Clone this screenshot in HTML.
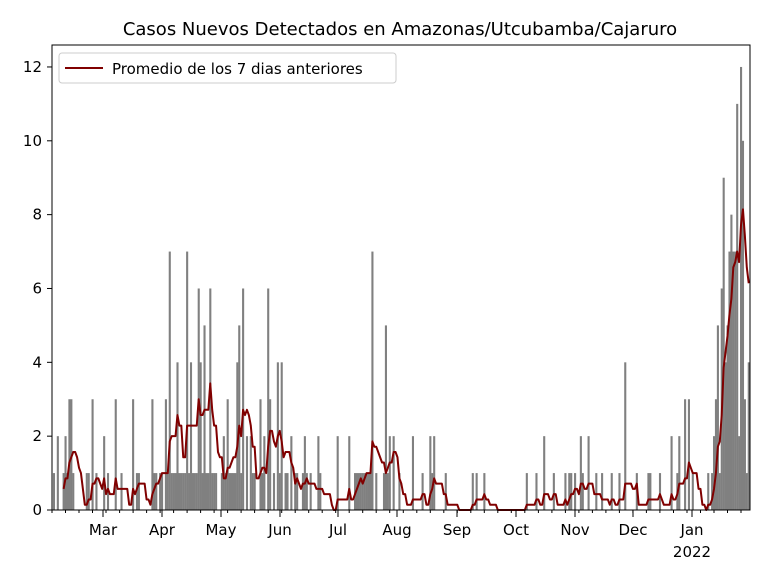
<!DOCTYPE html>
<html><head><meta charset="utf-8"><style>
body{margin:0;background:#fff;font-family:"Liberation Sans","DejaVu Sans",sans-serif}
</style></head><body>
<svg id="s" width="768" height="576" xmlns="http://www.w3.org/2000/svg" font-family="DejaVu Sans, Liberation Sans, sans-serif">
<rect width="768" height="576" fill="#fff"/>
<g id="bars" fill="#808080"></g>
<polyline id="ln" fill="none" stroke="#800000" stroke-width="2" stroke-linejoin="round"/>
<rect x="52" y="45" width="698" height="465" fill="none" stroke="#000" stroke-width="1"/>
<g id="ax" font-size="15" fill="#000"></g>
<text x="400" y="35" font-size="18" text-anchor="middle">Casos Nuevos Detectados en Amazonas/Utcubamba/Cajaruro</text>
<rect x="59" y="53" width="337" height="30" rx="3" fill="#fff" fill-opacity="0.85" stroke="#ccc"/>
<line x1="65" y1="68" x2="103" y2="68" stroke="#800000" stroke-width="2"/>
<text x="112" y="74" font-size="15">Promedio de los 7 dias anteriores</text>
</svg>
<script>
var raw=[54,1,57,2,63,1,65,2,67,1,69,3,71,3,73,1,86,1,89,1,93,3,97,1,104,2,108,1,115,3,121,1,134,3,137,1,139,1,152,3,155,1,157,1,160,1,162,1,165,3,167,1,169,7,171,1,174,1,177,4,180,1,183,1,187,7,189,1,190,4,193,1,196,1,198,6,200,4,202,1,205,5,207,1,210,6,212,1,215,1,217,1,221,1,224,2,227,3,229,1,232,1,235,1,238,4,240,5,242,1,244,6,247,2,250,2,252,1,255,1,260,3,263,1,265,2,268,6,270,3,273,1,277,4,279,1,281,4,285,1,287,1,292,2,295,1,298,1,302,1,305,2,307,1,310,1,318,2,320,1,337,2,350,2,355,1,358,1,360,1,362,1,364,1,366,1,368,1,373,7,376,1,383,1,386,5,388,1,390,2,393,2,400,1,412,2,423,1,430,2,432,1,435,2,445,1,473,1,476,1,485,1,527,1,537,1,545,2,553,1,565,1,569,1,572,1,575,1,580,2,583,1,589,2,596,1,602,1,611,1,620,1,625,4,637,1,649,1,651,1,660,1,671,2,677,1,680,2,685,3,688,3,693,1,708,1,714,2,716,3,718,5,720,1,722,6,724,9,726,4,728,5,730,7,732,8,734,7,736,7,738,11,740,2,741,12,743,10,745,3,748,4];
var dw=1.93,N=362,d=new Array(N).fill(0);
for(var i=0;i<raw.length;i+=2){var k=Math.round((raw[i]-52)/dw);if(k>=0&&k<N)d[k]=Math.max(d[k],raw[i+1]);}
[[172,216],[224,236],[355,372],[712,750]].forEach(function(r){for(var x=r[0];x<=r[1];x+=dw){var k=Math.round((x-52)/dw);if(d[k]==0)d[k]=1;}});
var ys=36.92,y0=510,b='',p=[];
for(var k=0;k<N;k++){if(d[k]>0){var h=d[k]*ys;b+='<rect x="'+(52+k*dw-1).toFixed(2)+'" y="'+(y0-h).toFixed(2)+'" width="2.1" height="'+h.toFixed(2)+'"/>';}
if(k>=6){var s=0;for(var j=k-6;j<=k;j++)s+=d[j];p.push((52+k*dw).toFixed(2)+','+(y0-s/7*ys).toFixed(2));}}
document.getElementById('bars').innerHTML=b;
document.getElementById('ln').setAttribute('points',p.join(' '));
var a='';
for(var v=0;v<=12;v+=2){var y=y0-v*ys;a+='<line x1="47" x2="52" y1="'+y+'" y2="'+y+'" stroke="#000"/><text x="42" y="'+(y+5)+'" text-anchor="end">'+v+'</text>';}
var m=[[103,'Mar'],[162,'Apr'],[221,'May'],[280,'Jun'],[338,'Jul'],[397,'Aug'],[457,'Sep'],[516,'Oct'],[575,'Nov'],[633,'Dec'],[692,'Jan']];
m.forEach(function(t){a+='<line x1="'+t[0]+'" x2="'+t[0]+'" y1="510" y2="517" stroke="#000"/><text x="'+t[0]+'" y="535" text-anchor="middle">'+t[1]+'</text>';});
a+='<text x="692" y="557" text-anchor="middle">2022</text>';
for(var x=52;x<750;x+=dw*7)a+='<line x1="'+x.toFixed(1)+'" x2="'+x.toFixed(1)+'" y1="510" y2="513" stroke="#000"/>';
document.getElementById('ax').innerHTML=a;
</script>
</body></html>
